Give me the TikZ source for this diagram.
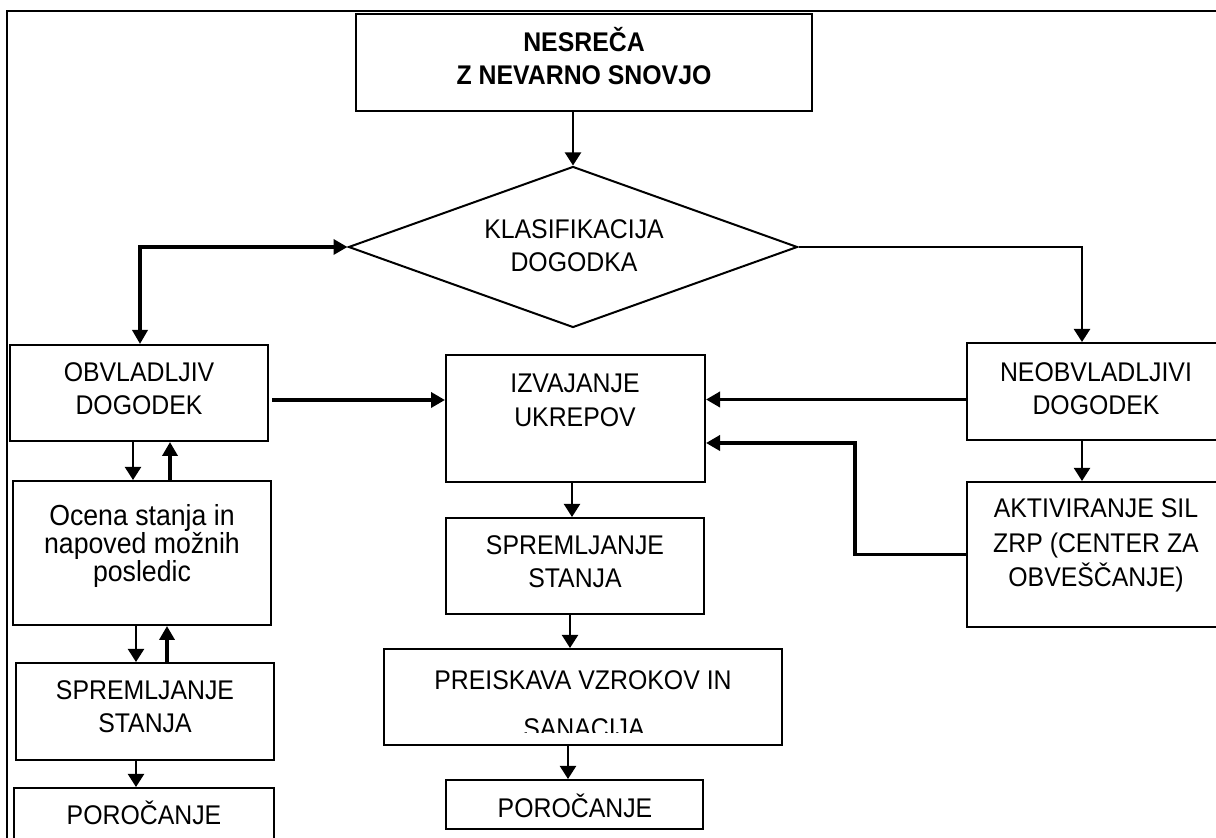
\documentclass[tikz,border=0pt]{standalone}
\usepackage{fontspec}
\setmainfont{Liberation Sans}[FakeStretch=0.92]
\usetikzlibrary{shapes.geometric,arrows.meta}
\begin{document}
\begin{tikzpicture}[x=0.5pt,y=-0.5pt,
  boxx/.style={draw,line width=1pt,rectangle,inner sep=0pt},
  lbl/.style={anchor=base,inner sep=0pt,font=\fontsize{13.5}{16.5}\selectfont},
  lblo/.style={anchor=base,inner sep=0pt,font=\fontsize{14.5}{18}\selectfont},
  thin/.style={line width=1pt,-{Triangle[length=6.5pt,width=8pt]}},
  thick/.style={line width=1.9pt,-{Triangle[length=7pt,width=7.5pt]}},
  thickline/.style={line width=1.9pt}
]
\useasboundingbox (0,0) rectangle (1216,838);
\clip (0,0) rectangle (1216,838);
% outer frame
\draw[line width=1.2pt] (7,844) -- (7,11) -- (1220,11);

% boxes
\node[boxx,minimum width=228pt,minimum height=48.5pt] (nes) at (584,62.5) {};
\node[diamond,draw,line width=1pt,inner sep=0pt,minimum width=224.5pt,minimum height=80.5pt] (kla) at (573,247) {};
\node[boxx,minimum width=129pt,minimum height=48pt] (obv) at (139,393) {};
\node[boxx,minimum width=129pt,minimum height=72pt] (oce) at (142,553) {};
\node[boxx,minimum width=129pt,minimum height=48.5pt] (spl) at (145,711.5) {};
\node[boxx,minimum width=130pt,minimum height=30pt] (porl) at (144,818) {};
\node[boxx,minimum width=129.5pt,minimum height=63.5pt] (izv) at (575.5,418.5) {};
\node[boxx,minimum width=129pt,minimum height=48pt] (spc) at (575,566) {};
\node[boxx,minimum width=199pt,minimum height=48pt] (pre) at (583,697) {};
\node[boxx,minimum width=128.5pt,minimum height=24.5pt] (porc) at (574.5,804.5) {};
\node[boxx,minimum width=129pt,minimum height=48.5pt] (neo) at (1096,391.5) {};
\node[boxx,minimum width=129pt,minimum height=72.5pt] (akt) at (1096,554.5) {};

% texts
\node[lbl,font=\fontsize{13.5}{16.5}\selectfont\bfseries] (nes1) at (584,52) {NESREČA};
\node[lbl,font=\fontsize{13.5}{16.5}\selectfont\bfseries] (nes2) at (584,85) {Z NEVARNO SNOVJO};
\node[lbl] (kla1) at (574,239) {KLASIFIKACIJA};
\node[lbl] (kla2) at (574,272) {DOGODKA};
\node[lbl] (obv1) at (139,382) {OBVLADLJIV};
\node[lbl] (obv2) at (139,415) {DOGODEK};
\node[lblo] (oce1) at (142,526) {Ocena stanja in};
\node[lblo] (oce2) at (142,554) {napoved možnih};
\node[lblo] (oce3) at (142,582) {posledic};
\node[lbl] (spl1) at (145,700) {SPREMLJANJE};
\node[lbl] (spl2) at (145,733) {STANJA};
\node[lbl] (porl1) at (144,825) {POROČANJE};
\node[lbl] (izv1) at (575,393) {IZVAJANJE};
\node[lbl] (izv2) at (575,427) {UKREPOV};
\node[lbl] (spc1) at (575,555) {SPREMLJANJE};
\node[lbl] (spc2) at (575,588) {STANJA};
\node[lbl] (pre1) at (583,690) {PREISKAVA VZROKOV IN};
\begin{scope}
\clip (384,649) rectangle (782,733);
\node[lbl] (pre2) at (584,738) {SANACIJA};
\end{scope}
\node[lbl] (porc1) at (575,818) {POROČANJE};
\node[lbl] (neo1) at (1096,382) {NEOBVLADLJIVI};
\node[lbl] (neo2) at (1096,415) {DOGODEK};
\node[lbl] (akt1) at (1096,518) {AKTIVIRANJE SIL};
\node[lbl] (akt2) at (1096,553) {ZRP (CENTER ZA};
\node[lbl] (akt3) at (1096,587) {OBVEŠČANJE)};

% connectors
\draw[thin] (nes.south -| kla.north) -- (kla.north);
\draw[line width=1.9pt,{Triangle[length=7pt,width=7.5pt]}-{Triangle[length=7pt,width=7.5pt]}] (kla.west) -| ([xshift=0.5pt]obv.north);
\coordinate (nr) at ([xshift=-7pt]neo.north);
\draw[line width=1.2pt,-{Triangle[length=6.5pt,width=8pt]}] (kla.east) -| (nr);

\coordinate (o1) at ([yshift=-3.5pt]obv.east);
\draw[thick] ([xshift=1.5pt]o1) -- (o1 -| izv.west);
\coordinate (n1) at ([yshift=-4pt]neo.west);
\draw[thick] (n1) -- (n1 -| izv.east);
\coordinate (bend) at (855,443);
\draw[thick] (akt.west) -| (bend) -- (bend -| izv.east);

% left column
\coordinate (ld1) at ([xshift=-3pt]obv.south);
\draw[thin] (ld1) -- (ld1 |- oce.north);
\coordinate (lu1) at ([xshift=15.5pt]obv.south);
\draw[thick] (lu1 |- oce.north) -- (lu1);
\coordinate (ld2) at ([xshift=-3pt]oce.south);
\draw[thin] (ld2) -- (ld2 |- spl.north);
\coordinate (lu2) at ([xshift=12.5pt]oce.south);
\draw[thick] (lu2 |- spl.north) -- (lu2);
\coordinate (ld3) at ([xshift=-4.5pt]spl.south);
\draw[thin] (ld3) -- (ld3 |- porl.north);

% center column
\coordinate (cd1) at ([xshift=-1.75pt]izv.south);
\draw[thin] (cd1) -- (cd1 |- spc.north);
\coordinate (cd2) at ([xshift=-2.5pt]spc.south);
\draw[thin] (cd2) -- (cd2 |- pre.north);
\coordinate (cd3) at ([xshift=-7.5pt]pre.south);
\draw[thin] (cd3) -- (cd3 |- porc.north);

% right column
\coordinate (rd1) at ([xshift=-7pt]neo.south);
\draw[thin] (rd1) -- (rd1 |- akt.north);
\end{tikzpicture}
\end{document}
